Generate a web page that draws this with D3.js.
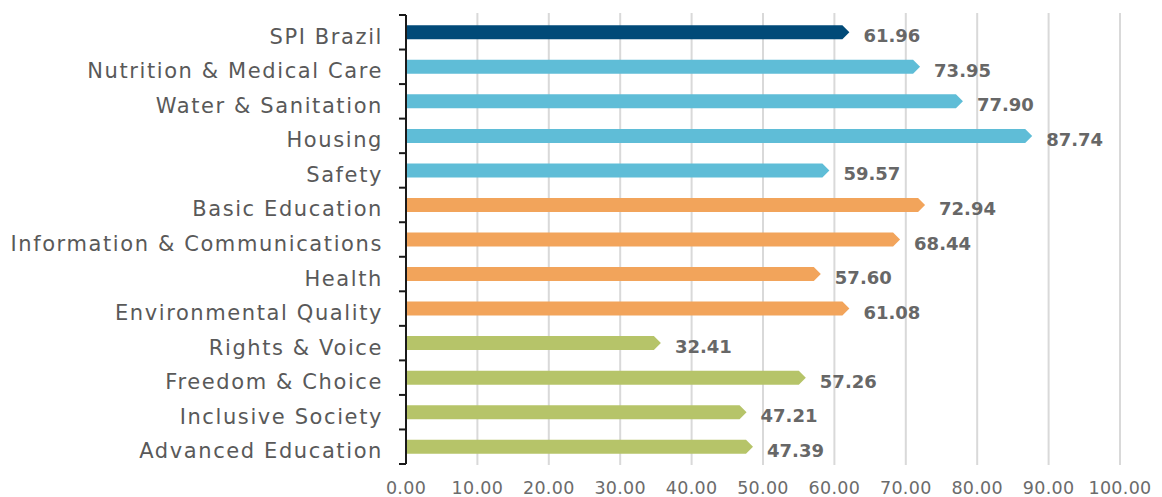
<!DOCTYPE html>
<html>
<head>
<meta charset="utf-8">
<script src="https://cdn.jsdelivr.net/npm/d3@7"></script>
<style>
  body { margin: 0; background: #fff; }
  text { font-family: "DejaVu Sans", sans-serif; }
</style>
</head>
<body>
<div id="chart"></div>
<script>
const categories = ["SPI Brazil", "Nutrition & Medical Care", "Water & Sanitation", "Housing", "Safety",
    "Basic Education", "Information & Communications", "Health", "Environmental Quality",
    "Rights & Voice", "Freedom & Choice", "Inclusive Society", "Advanced Education"];
// bar lengths as drawn in the picture
const barValues = [62.1, 72.0, 78.0, 87.7, 59.3, 72.7, 69.2, 58.1, 62.1, 35.7, 56.0, 47.7, 48.6];
// labels printed next to the bars
const labels = ["61.96", "73.95", "77.90", "87.74", "59.57", "72.94", "68.44", "57.60", "61.08", "32.41", "57.26", "47.21", "47.39"];
const groups = ["spi", "needs", "needs", "needs", "needs", "well", "well", "well", "well", "opp", "opp", "opp", "opp"];
const xTicks = [0, 10, 20, 30, 40, 50, 60, 70, 80, 90, 100];

const colors = { spi: "#014a78", needs: "#5fbdd7", well: "#f2a45b", opp: "#b6c469" };

const width = 1162, height = 497;
const margin = { top: 15, right: 42, bottom: 34, left: 406 };

const svg = d3.select("#chart").append("svg")
    .attr("width", width)
    .attr("height", height);

const x = d3.scaleLinear().domain([0, 100]).range([margin.left, 1120]);
const y = d3.scaleBand().domain(categories).range([margin.top, 464]);

// gridlines
svg.append("g")
    .selectAll("line")
    .data(xTicks.slice(1))
    .enter().append("line")
    .attr("x1", d => x(d)).attr("x2", d => x(d))
    .attr("y1", 13).attr("y2", 465)
    .attr("stroke", "#d9d9d9")
    .attr("stroke-width", 2);

// x tick labels
svg.append("g")
    .selectAll("text")
    .data(xTicks)
    .enter().append("text")
    .attr("x", d => x(d))
    .attr("y", 494)
    .attr("text-anchor", "middle")
    .attr("fill", "#6b6b6b")
    .style("font-size", "17.5px")
    .style("letter-spacing", "0.3px")
    .text(d => d.toFixed(2));

// bars with arrow tip
const barH = 14, tip = 7;
const cy = d => y(d) + y.bandwidth() / 2;
svg.append("g")
    .selectAll("path")
    .data(categories)
    .enter().append("path")
    .attr("d", (d, i) => {
        const x0 = x(0) + 1, x1 = x(barValues[i]), c = cy(d);
        return `M${x0},${c - barH / 2}L${x1 - tip},${c - barH / 2}L${x1},${c}L${x1 - tip},${c + barH / 2}L${x0},${c + barH / 2}Z`;
    })
    .attr("fill", (d, i) => colors[groups[i]]);

// value labels
svg.append("g")
    .selectAll("text")
    .data(categories)
    .enter().append("text")
    .attr("x", (d, i) => x(barValues[i]) + 14)
    .attr("y", d => cy(d) + 10)
    .attr("fill", "#676767")
    .style("font-size", "18px")
    .style("font-weight", "bold")
    .text((d, i) => labels[i]);

// category labels
svg.append("g")
    .selectAll("text")
    .data(categories)
    .enter().append("text")
    .attr("x", 383)
    .attr("y", d => cy(d) + 11.5)
    .attr("text-anchor", "end")
    .attr("fill", "#595959")
    .style("font-size", "21px")
    .style("letter-spacing", "1.6px")
    .text(d => d);

// y axis line and tick marks at band edges
const yAxis = svg.append("g");
yAxis.append("line")
    .attr("x1", x(0)).attr("x2", x(0))
    .attr("y1", margin.top).attr("y2", 464)
    .attr("stroke", "#1a1a1a").attr("stroke-width", 2);
const edges = categories.map(d => y(d)).concat([464]);
yAxis.selectAll("line.tk")
    .data(edges)
    .enter().append("line")
    .attr("class", "tk")
    .attr("x1", x(0) - 7).attr("x2", x(0))
    .attr("y1", d => d).attr("y2", d => d)
    .attr("stroke", "#1a1a1a").attr("stroke-width", 2);
</script>
</body>
</html>
